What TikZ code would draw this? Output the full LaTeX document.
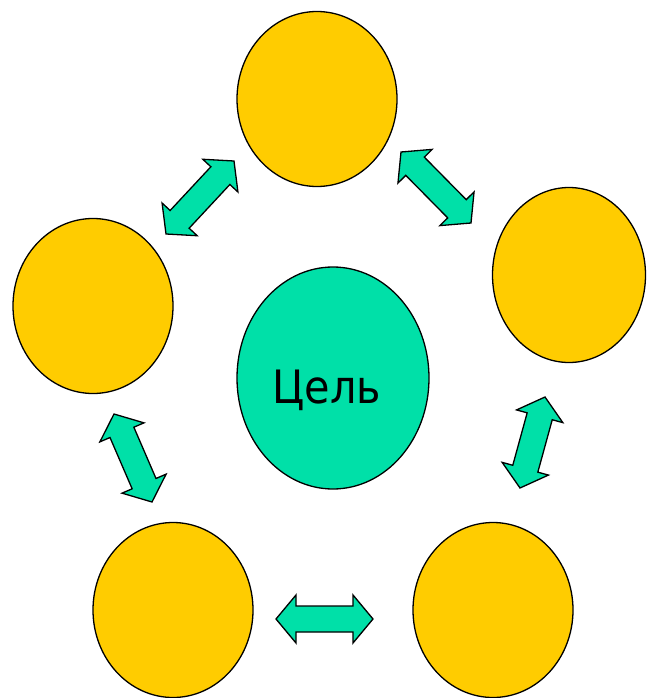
\documentclass[tikz,border=0pt]{standalone}
\usepackage{fontspec}
\newfontfamily\labelfont{DejaVu Sans Condensed}
\usetikzlibrary{shapes.geometric,calc}
\definecolor{gold}{RGB}{255,204,0}
\definecolor{mint}{RGB}{0,224,168}
\tikzset{
  circ/.style={ellipse, draw=black, line width=1.3pt, inner sep=0pt, minimum width=160pt, minimum height=175pt, fill=gold},
  goal/.style={circ, fill=mint, minimum width=192pt, minimum height=222pt},
  arrowbox/.style={draw=black, fill=mint, line width=1.3pt, line join=miter}
}
\newcommand\myblockarrow[2]{%
\draw[arrowbox] (#1)
 -- ($(#1)!20pt!(#2)!24pt!90:(#2)$)
 -- ($(#1)!20pt!(#2)!13pt!90:(#2)$)
 -- ($(#2)!20pt!(#1)!13pt!-90:(#1)$)
 -- ($(#2)!20pt!(#1)!24pt!-90:(#1)$)
 -- (#2)
 -- ($(#2)!20pt!(#1)!24pt!90:(#1)$)
 -- ($(#2)!20pt!(#1)!13pt!90:(#1)$)
 -- ($(#1)!20pt!(#2)!13pt!-90:(#2)$)
 -- ($(#1)!20pt!(#2)!24pt!-90:(#2)$)
 -- cycle;}
\begin{document}
\begin{tikzpicture}[x=1pt,y=-1pt]
\useasboundingbox[fill=white] (0,0) rectangle (646,698);
\node[circ] (top) at (317,99) {};
\node[circ, minimum width=153pt] (right) at (569,275) {};
\node[circ] (left) at (93,306) {};
\node[circ] (bl) at (173,610) {};
\node[circ] (br) at (493,610) {};
\node[goal] (center) at (333,378) {};
\node[font=\labelfont\fontsize{46}{50}\selectfont, anchor=base, inner sep=0pt] (lbl) at (327,403) {Цель};
\coordinate (a1s) at (166,234); \coordinate (a1e) at (234,161);
\coordinate (a2s) at (401,152); \coordinate (a2e) at (471,223);
\coordinate (a3s) at (545,397); \coordinate (a3e) at (520,488);
\coordinate (a4s) at (114,414); \coordinate (a4e) at (152,502);
\coordinate (a5s) at (276,619); \coordinate (a5e) at (373,619);
\myblockarrow{a1s}{a1e}
\myblockarrow{a2s}{a2e}
\myblockarrow{a3s}{a3e}
\myblockarrow{a4s}{a4e}
\myblockarrow{a5s}{a5e}
\end{tikzpicture}
\end{document}
